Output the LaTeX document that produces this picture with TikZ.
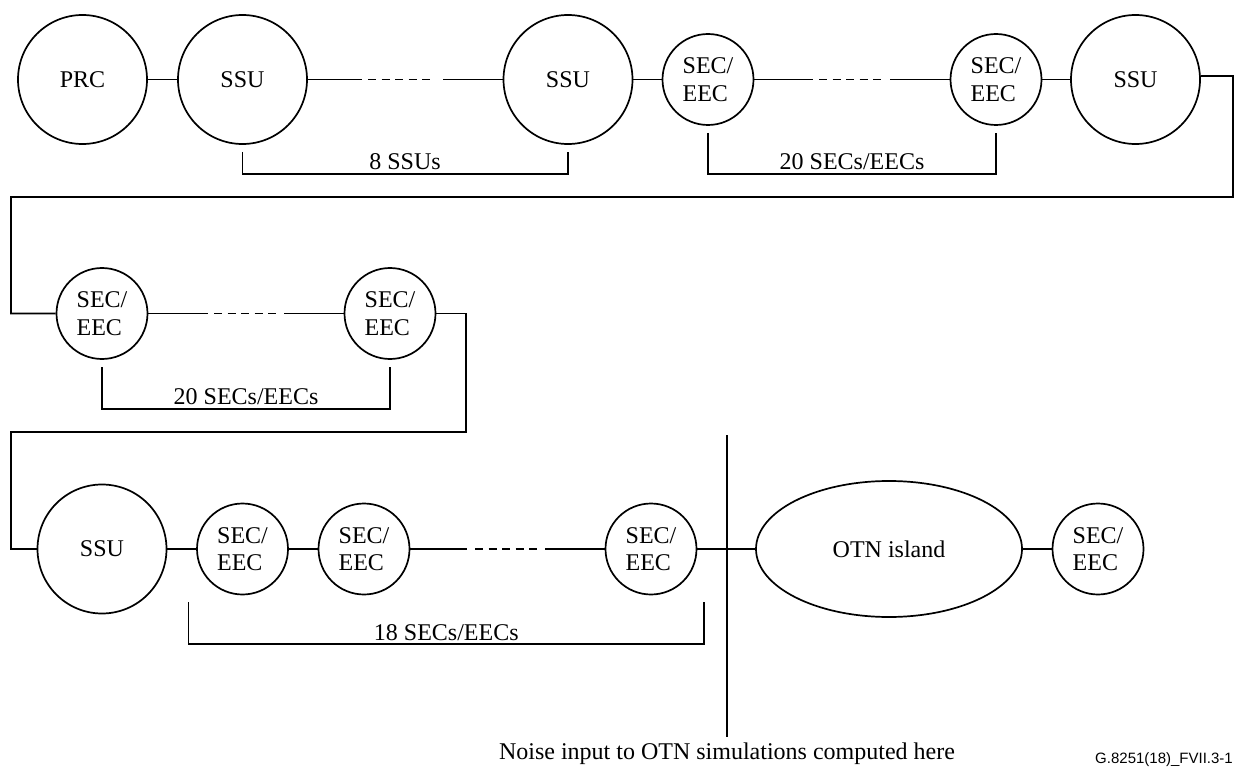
\documentclass[tikz,border=0pt]{standalone}
\usepackage{fontspec}
\setmainfont{Liberation Serif}
\newfontfamily\labelsans{Liberation Sans}
\usetikzlibrary{shapes.geometric}
\begin{document}
\begin{tikzpicture}[x=1pt,y=-1pt,
  every node/.style={font=\fontsize{24}{27.5}\selectfont},
  ln/.style={line width=1.7pt, draw=black},
  bignode/.style={circle, draw, line width=1.7pt, inner sep=0pt, minimum size=129pt, align=center},
  smallnode/.style={circle, draw, line width=1.7pt, inner sep=0pt, minimum size=91pt, align=left},
  islandnode/.style={ellipse, draw, line width=1.7pt, inner sep=0pt, minimum width=266pt, minimum height=136pt},
  dotsline/.style={line width=1.7pt, dash pattern=on 8pt off 5.5pt},
  lbl/.style={anchor=base, inner sep=0pt}]
\useasboundingbox (0,0) rectangle (1234,767);

% ---------- Row 1 ----------
\node[bignode] (prc) at (82.5,79.5) {PRC};
\node[bignode] (ssu1) at (242.5,79.5) {SSU};
\node[bignode] (ssu2) at (568,79.5) {SSU};
\node[smallnode] (sec1) at (708,79.5) {SEC/\\EEC};
\node[smallnode] (sec2) at (996,79.5) {SEC/\\EEC};
\node[bignode] (ssu3) at (1135.5,79.5) {SSU};

\draw[ln] (prc) -- (ssu1);
\coordinate (a1) at (362,79.5);
\coordinate (a2) at (368,79.5);
\coordinate (a3) at (430,79.5);
\coordinate (a4) at (443,79.5);
\draw[ln] (ssu1) -- (a1);
\draw[dotsline] (a2) -- (a3);
\draw[ln] (a4) -- (ssu2);
\draw[ln] (ssu2) -- (sec1);
\coordinate (b1) at (813,79.5);
\coordinate (b2) at (819,79.5);
\coordinate (b3) at (881,79.5);
\coordinate (b4) at (890,79.5);
\draw[ln] (sec1) -- (b1);
\draw[dotsline] (b2) -- (b3);
\draw[ln] (b4) -- (sec2);
\draw[ln] (sec2) -- (ssu3);

% brackets row 1
\coordinate (k1) at (242.5,152);
\coordinate (k2) at (568,152);
\draw[ln] (k1) -- (242.5,174) -- (568,174) -- (k2);
\node[lbl] (lab1) at (405,170) {8 SSUs};
\coordinate (k3) at (708,133);
\coordinate (k4) at (996,133);
\draw[ln] (k3) -- (708,174) -- (996,174) -- (k4);
\node[lbl] (lab2) at (852,170) {20 SECs/EECs};

% wrap 1
\coordinate (w1) at (1233,76.1);
\coordinate (w2) at (1233,197);
\coordinate (w3) at (11,197);
\coordinate (w4) at (11,313.5);

% ---------- Row 2 ----------
\node[smallnode] (sec3) at (102,313.5) {SEC/\\EEC};
\node[smallnode] (sec4) at (390,313.5) {SEC/\\EEC};
\draw[ln] (ssu3.3) -- (w1) -- (w2) -- (w3) -- (w4) -- (sec3);

\coordinate (c1) at (207.6,313.5);
\coordinate (c2) at (214,313.5);
\coordinate (c3) at (276,313.5);
\coordinate (c4) at (284,313.5);
\draw[ln] (sec3) -- (c1);
\draw[dotsline] (c2) -- (c3);
\draw[ln] (c4) -- (sec4);

\coordinate (k5) at (102,367);
\coordinate (k6) at (390,367);
\draw[ln] (k5) -- (102,409) -- (390,409) -- (k6);
\node[lbl] (lab3) at (246,404) {20 SECs/EECs};

% wrap 2
\coordinate (v1) at (466,313.5);
\coordinate (v2) at (466,432);
\coordinate (v3) at (11,432);
\coordinate (v4) at (11,549);

% ---------- Row 3 ----------
\node[bignode] (ssu4) at (102,549) {SSU};
\node[smallnode] (sec5) at (242.5,549) {SEC/\\EEC};
\node[smallnode] (sec6) at (364,549) {SEC/\\EEC};
\node[smallnode] (sec7) at (651,549) {SEC/\\EEC};
\node[islandnode] (otn) at (889,549) {OTN island};
\node[smallnode] (sec8) at (1098,549) {SEC/\\EEC};

\draw[ln] (sec4) -- (v1) -- (v2) -- (v3) -- (v4) -- (ssu4);
\draw[ln] (ssu4) -- (sec5);
\draw[ln] (sec5) -- (sec6);
\coordinate (d1) at (466.6,549);
\coordinate (d2) at (475,549);
\coordinate (d3) at (537,549);
\coordinate (d4) at (545,549);
\draw[ln] (sec6) -- (d1);
\draw[dotsline] (d2) -- (d3);
\draw[ln] (d4) -- (sec7);
\draw[ln] (sec7) -- (otn);
\draw[ln] (otn) -- (sec8);

% bracket row 3
\coordinate (k7) at (188.6,602);
\coordinate (k8) at (704,602);
\draw[ln] (k7) -- (188.6,644) -- (704,644) -- (k8);
\node[lbl] (lab4) at (446.3,640) {18 SECs/EECs};

% measurement point
\coordinate (m1) at (727,435);
\coordinate (m2) at (727,737);
\draw[ln] (m1) -- (m2);
\node[lbl] (noise) at (727,759) {Noise input to OTN simulations computed here};

\node[anchor=base east, inner sep=0pt, font=\labelsans\fontsize{15}{18}\selectfont] (fig) at (1233,763) {G.8251(18)\_FVII.3-1};
\end{tikzpicture}
\end{document}
